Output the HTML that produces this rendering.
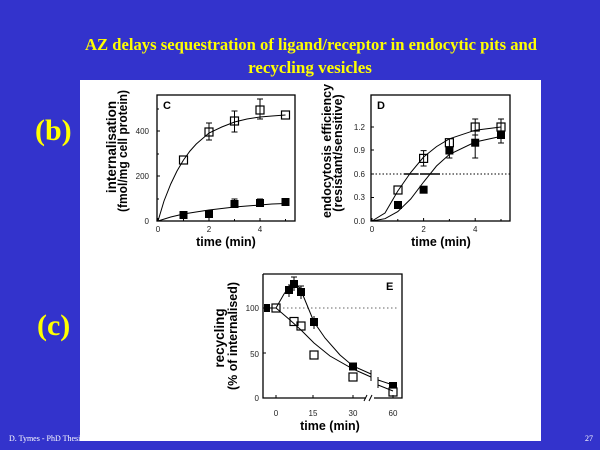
<!DOCTYPE html>
<html><head><meta charset="utf-8"><style>
html,body{margin:0;padding:0;background:#3333cc;width:600px;height:450px;overflow:hidden}
svg{display:block}
.t{font-family:"Liberation Sans",sans-serif;font-size:8px;fill:#222}
.lab{font-family:"Liberation Sans",sans-serif;font-size:12.5px;font-weight:bold;fill:#000}
.ti{font-family:"Liberation Serif",serif;font-size:17px;fill:#ffff00;font-weight:bold}
</style></head><body>
<svg width="600" height="450" viewBox="0 0 600 450" xmlns="http://www.w3.org/2000/svg">
<rect width="600" height="450" fill="#3333cc"/>
<text x="9" y="441" font-family="Liberation Serif,serif" font-size="8" fill="#fff">D. Tymes - PhD Thesis</text>
<text x="585" y="441" font-family="Liberation Serif,serif" font-size="8" fill="#fff">27</text>
<text class="ti" x="311" y="50" text-anchor="middle" textLength="452" lengthAdjust="spacingAndGlyphs">AZ delays sequestration of ligand/receptor in endocytic pits and</text>
<text class="ti" x="310" y="73" text-anchor="middle">recycling vesicles</text>
<rect x="80" y="80" width="461" height="361" fill="#fff"/>
<text x="35" y="140" font-family="Liberation Serif,serif" font-size="30" font-weight="bold" fill="#ffff00">(b)</text>
<text x="37" y="335" font-family="Liberation Serif,serif" font-size="30" font-weight="bold" fill="#ffff00">(c)</text>

<g fill="none" stroke="#000" stroke-width="1">
<!-- C -->
<rect x="157" y="95" width="138" height="126" stroke-width="1.3"/>
<path d="M158 221v-3M183.5 221v-2M209 221v-3M234.5 221v-2M260 221v-3M285.5 221v-2M157 221h3M157 199h2M157 176h3M157 154h2M157 131h3M157 109h2"/>
<path d="M158 221L164 201L170.75 184L177 171L183.5 160L190 151L196.25 144L209 133L221.75 127L234.5 122L247 119L260 117L272 116L285.5 115"/>
<path d="M158 221L170.75 217L183.5 214L196 212L209 210L221.75 208.5L234.5 207L247 206L260 205L272 204L285.5 203.5"/>
<path d="M209 140V123M206 140h6M206 123h6M234.5 132V111M231.5 132h6M231.5 111h6M260 119V99M257 119h6M257 99h6M234.5 208V199M231.5 199h6M260 207V199M257 199h6"/>
<g stroke-width="1.2"><rect x="179.5" y="156" width="8" height="8"/><rect x="205" y="128" width="8" height="8"/><rect x="230.5" y="117" width="8" height="8"/><rect x="256" y="106" width="8" height="8"/><rect x="281.5" y="111" width="8" height="8"/></g>
<!-- D -->
<rect x="371" y="95" width="139" height="126" stroke-width="1.3"/>
<path d="M372 221v-3M397.8 221v-2M423.6 221v-3M449.4 221v-2M475.2 221v-3M501 221v-2M371 221h3M371 197.5h3M371 174h3M371 150h3M371 127h3"/>
<path d="M372 174H510" stroke-dasharray="1.5 2"/>
<path d="M372 221L385 213L397.8 191L410.7 172.5L423.6 157L436.5 146.6L449.4 138.8L475.2 130.2L501 127"/>
<path d="M372 221L385 218.7L397.8 211.6L410.7 199L423.6 182L436.5 166L449.4 154.4L475.2 142L501 136.4"/>
<path d="M423.6 166V150.6M420.6 166h6M420.6 150.6h6M449.4 146.6V138.8M475.2 135V119M472.2 135h6M472.2 119h6M501 135V119M498 119h6M449.4 158V150.5M446.4 158h6M475.2 158V127M472.2 158h6M501 143V127M498 143h6"/>
<path d="M404 174h14M420 174h20" stroke-width="1.5"/>
<g stroke-width="1.2"><rect x="394" y="186" width="8" height="8"/><rect x="419.6" y="154.4" width="8" height="8"/><rect x="445.4" y="138.7" width="8" height="8"/><rect x="471.2" y="123" width="8" height="8"/><rect x="497" y="123" width="8" height="8"/></g>
<!-- E -->
<path d="M263 274V398H366M374 398H402V274H263" stroke-width="1.3"/>
<path d="M364 401l3-6M369 401l3-6"/>
<path d="M276 398v-3M313 398v-3M353 398v-3M393 398v-3M263 398h3M263 353h3M263 308h3"/>
<path d="M283 308H397" stroke-dasharray="1.5 2.5" stroke="#666"/>
<path d="M264 308H276L284 294L292 283L300 288L307 305L314 322L325 338L340 355L353 366L371 374"/>
<path d="M276 308L290 320L301 330L314 343L330 356L353 369L371 377"/>
<path d="M371 370v8M371 373v8M378 380L393 385M378 385L393 391M378 377v6M378 382v6"/>
<path d="M289 297V284M294 291V277M291 277h6M301 299V286M298 286h6M314 329V316"/>
<g stroke-width="1.2"><rect x="272" y="304" width="8" height="8"/><rect x="290" y="317.5" width="8" height="8"/><rect x="297" y="322" width="8" height="8"/><rect x="310" y="351" width="8" height="8"/><rect x="349" y="373" width="8" height="8"/><rect x="389" y="388" width="8" height="8"/></g>
</g>
<g fill="#000">
<rect x="179.5" y="211" width="8" height="8"/><rect x="205" y="210" width="8" height="8"/><rect x="230.5" y="200" width="8" height="8"/><rect x="256" y="199" width="8" height="8"/><rect x="281.5" y="198" width="8" height="8"/>
<rect x="394" y="201" width="8" height="8"/><rect x="419.6" y="185.7" width="8" height="8"/><rect x="445.4" y="146.5" width="8" height="8"/><rect x="471.2" y="138.7" width="8" height="8"/><rect x="497" y="131" width="8" height="8"/>
<rect x="264" y="304" width="6" height="8"/><rect x="285" y="286" width="8" height="8"/><rect x="290" y="280" width="8" height="8"/><rect x="297" y="288" width="8" height="8"/><rect x="310" y="318" width="8" height="8"/><rect x="349" y="362.5" width="8" height="8"/><rect x="389" y="382" width="8" height="6"/>
</g>
<g class="t">
<text x="158" y="232" text-anchor="middle">0</text><text x="209" y="232" text-anchor="middle">2</text><text x="260" y="232" text-anchor="middle">4</text>
<text x="149" y="224" text-anchor="end">0</text><text x="149" y="179" text-anchor="end">200</text><text x="149" y="134" text-anchor="end">400</text>
<text x="372" y="232" text-anchor="middle">0</text><text x="423.6" y="232" text-anchor="middle">2</text><text x="475.2" y="232" text-anchor="middle">4</text>
<text x="365" y="224" text-anchor="end">0.0</text><text x="365" y="200" text-anchor="end">0.3</text><text x="365" y="177" text-anchor="end">0.6</text><text x="365" y="153" text-anchor="end">0.9</text><text x="365" y="130" text-anchor="end">1.2</text>
<text x="276" y="416" text-anchor="middle">0</text><text x="313" y="416" text-anchor="middle">15</text><text x="353" y="416" text-anchor="middle">30</text><text x="393" y="416" text-anchor="middle">60</text>
<text x="259" y="401" text-anchor="end">0</text><text x="259" y="357" text-anchor="end">50</text><text x="259" y="311" text-anchor="end">100</text>
</g>
<g class="lab">
<text x="163" y="109" font-size="11">C</text><text x="377" y="109" font-size="11">D</text><text x="386" y="290" font-size="11">E</text>
<text x="226" y="246" text-anchor="middle">time (min)</text>
<text x="441" y="246" text-anchor="middle">time (min)</text>
<text x="330" y="430" text-anchor="middle">time (min)</text>
<text transform="translate(116,147) rotate(-90)" text-anchor="middle" font-size="13.5">internalisation</text>
<text transform="translate(127,151) rotate(-90)" text-anchor="middle" textLength="122" lengthAdjust="spacingAndGlyphs">(fmol/mg cell protein)</text>
<text transform="translate(331,151) rotate(-90)" text-anchor="middle">endocytosis efficiency</text>
<text transform="translate(342,153) rotate(-90)" text-anchor="middle">(resistant/sensitive)</text>
<text transform="translate(224,338) rotate(-90)" text-anchor="middle" font-size="13.5">recycling</text>
<text transform="translate(237,336) rotate(-90)" text-anchor="middle" textLength="108" lengthAdjust="spacingAndGlyphs">(% of internalised)</text>
</g>
</svg>
</body></html>
